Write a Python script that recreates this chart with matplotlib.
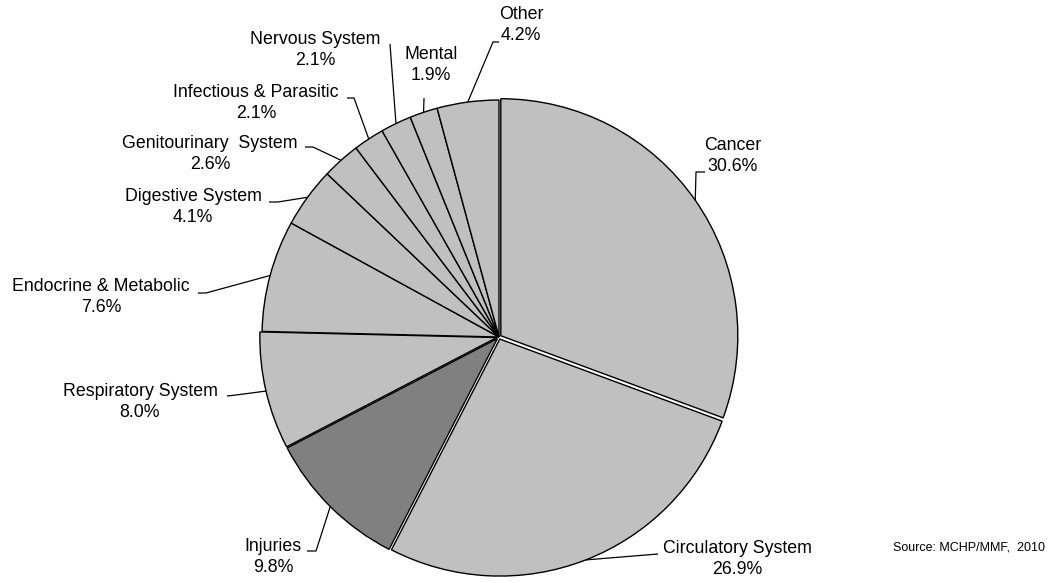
import numpy as np
import matplotlib
matplotlib.use("Agg")
import matplotlib.pyplot as plt

# data, clockwise from 12 o'clock
causes = ["Cancer", "Circulatory System", "Injuries", "Respiratory System",
          "Endocrine & Metabolic", "Digestive System", "Genitourinary  System",
          "Infectious & Parasitic", "Nervous System", "Mental", "Other"]
shares = [30.6, 26.9, 9.8, 8.0, 7.6, 4.1, 2.6, 2.1, 2.1, 1.9, 4.2]
source_note = "Source: MCHP/MMF,  2010"

W, H = 1052, 583
plt.rcParams['font.family'] = ['Liberation Sans', 'DejaVu Sans']

fig = plt.figure(figsize=(W / 100, H / 100), dpi=100)
ax = fig.add_axes([0, 0, 1, 1])

def py(y):
    # pixel row -> data y
    return H - y

cx, cy, R = 499, py(337), 237
colors = ['#c0c0c0'] * len(causes)
colors[2] = '#808080'
# explode offset is in data units (pixels here)
explode = [2.2, 2.2, 2.2, 2.2] + [0] * 7

wedges, _ = ax.pie(shares, colors=colors, explode=explode, startangle=90,
                   counterclock=False, center=(cx, cy), radius=R,
                   wedgeprops=dict(edgecolor='black', linewidth=1.0),
                   frame=True)
ax.set_xlim(0, W)
ax.set_ylim(0, H)
ax.set_aspect('equal')
ax.axis('off')

# label block centres and leader elbows (pixel coords)
label_pos = [(733, 156), (737, 559), (273, 557), (140, 402), (101, 297),
             (193, 207), (210, 154), (256, 103), (315, 50), (431, 65), (521, 25)]
elbows = [[(705, 172), (696, 172)],
          [(658, 554)],
          [(307, 551), (316, 551)],
          [(227, 396), (236, 395)],
          [(198, 293), (206, 293)],
          [(269, 202), (278, 202)],
          [(305, 147), (313, 147)],
          [(347, 98), (354, 98)],
          [(390, 44)],
          [(424, 98)],
          [(499, 42), (493, 42)]]

for w, name, val, (tx, ty), elb in zip(wedges, causes, shares, label_pos, elbows):
    mid = np.deg2rad((w.theta1 + w.theta2) / 2)
    wx, wy = w.center
    ex = wx + w.r * np.cos(mid)
    ey = wy + w.r * np.sin(mid)
    xs = [p[0] for p in elb] + [ex]
    ys = [py(p[1]) for p in elb] + [ey]
    ax.plot(xs, ys, color='black', lw=0.9, solid_capstyle='butt')
    ax.text(tx, py(ty), f"{name}\n{val:.1f}%", ha='center', va='center',
            fontsize=12.8, linespacing=1.35, color='black')

ax.text(893, py(548), source_note, ha='left', va='center', fontsize=9)

fig.savefig("out.png", dpi=100)
